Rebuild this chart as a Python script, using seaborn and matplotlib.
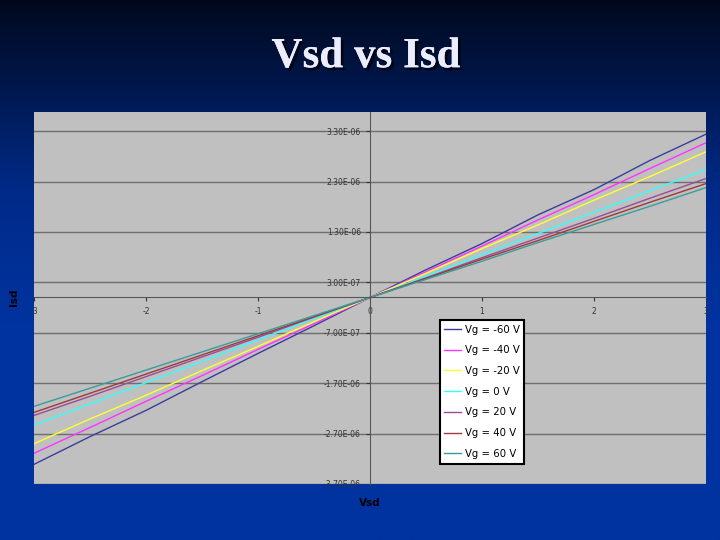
import numpy as np
import pandas as pd
import matplotlib
matplotlib.use("Agg")
import matplotlib.pyplot as plt
import matplotlib.patheffects as pe
from matplotlib.colors import LinearSegmentedColormap
import seaborn as sns

# Vsd sweep (V)
vsd = [-3.0, -2.5, -2.0, -1.5, -1.0, -0.5, 0.0, 0.5, 1.0, 1.5, 2.0, 2.5, 3.0]

# Isd, in microamps
isd_m60 = [-3.31, -2.76, -2.24, -1.67, -1.11, -0.56, 0.0, 0.55, 1.07, 1.64, 2.14, 2.72, 3.24]
isd_m40 = [-3.09, -2.58, -2.06, -1.55, -1.03, -0.52, 0.0, 0.51, 1.02, 1.54, 2.04, 2.56, 3.07]
isd_m20 = [-2.90, -2.41, -1.94, -1.45, -0.97, -0.48, 0.0, 0.48, 0.97, 1.44, 1.93, 2.40, 2.89]
isd_0 = [-2.53, -2.11, -1.69, -1.27, -0.84, -0.42, 0.0, 0.42, 0.85, 1.27, 1.69, 2.12, 2.54]
isd_p20 = [-2.34, -1.96, -1.57, -1.18, -0.79, -0.39, 0.0, 0.39, 0.79, 1.18, 1.57, 1.97, 2.36]
isd_p40 = [-2.28, -1.90, -1.52, -1.14, -0.76, -0.38, 0.0, 0.38, 0.76, 1.13, 1.51, 1.89, 2.26]
isd_p60 = [-2.16, -1.80, -1.44, -1.08, -0.72, -0.36, 0.0, 0.36, 0.72, 1.09, 1.45, 1.81, 2.18]

labels = ["Vg = -60 V", "Vg = -40 V", "Vg = -20 V", "Vg = 0 V",
          "Vg = 20 V", "Vg = 40 V", "Vg = 60 V"]
series = [isd_m60, isd_m40, isd_m20, isd_0, isd_p20, isd_p40, isd_p60]
colors = ["#3c3c9c", "#ff33ff", "#ffff33", "#33ffff", "#994d99", "#a03a3a", "#3a9c9c"]

yticks = [-3.7e-6, -2.7e-6, -1.7e-6, -7.0e-7, 3.0e-7, 1.3e-6, 2.3e-6, 3.3e-6]
xticks = [-3, -2, -1, 0, 1, 2, 3]

rows = []
for lab, vals in zip(labels, series):
    for x, y in zip(vsd, vals):
        rows.append({"Vsd": x, "Isd": y * 1e-6, "Vg": lab})
df = pd.DataFrame(rows)

fig = plt.figure(figsize=(7.2, 5.4), dpi=100)

# slide background gradient
bg = fig.add_axes([0, 0, 1, 1], zorder=-10)
cmap = LinearSegmentedColormap.from_list(
    "slide", [(0.0, "#00081c"), (0.35, "#002a88"), (0.6, "#0033a0"), (1.0, "#0033a0")])
grad = np.linspace(0, 1, 256).reshape(-1, 1)
bg.imshow(grad, aspect="auto", cmap=cmap, extent=[0, 1, 0, 1], origin="upper")
bg.axis("off")

ax = fig.add_axes([34 / 720, 1 - 484 / 540, 672 / 720, 372 / 540])
ax.set_facecolor("#c0c0c0")

sns.lineplot(data=df, x="Vsd", y="Isd", hue="Vg", hue_order=labels,
             palette=colors, linewidth=1.0, ax=ax, legend=True)

ax.set_xlim(-3, 3)
ax.set_ylim(-3.7e-6, 3.68e-6)
ax.set_yticks(yticks)
ax.set_yticklabels(["{:.2E}".format(v) for v in yticks])
ax.set_xticks(xticks)
ax.set_xticklabels([str(v) for v in xticks])

ax.grid(axis="y", color="#6e6e6e", linewidth=1.0)
ax.grid(axis="x", visible=False)
ax.set_axisbelow(True)

for s in ["top", "right"]:
    ax.spines[s].set_visible(False)
ax.spines["left"].set_position(("data", 0))
ax.spines["bottom"].set_position(("data", 0))
ax.spines["left"].set_color("#555555")
ax.spines["bottom"].set_color("#555555")
ax.tick_params(axis="both", labelsize=5.5, colors="#333333", length=3, width=0.8)

ax.set_xlabel("")
ax.set_ylabel("")

leg = ax.legend(loc="upper left", bbox_to_anchor=(0.604, 0.441), fontsize=7.3,
                frameon=True, fancybox=False, edgecolor="black", facecolor="white",
                framealpha=1.0, handlelength=1.6, labelspacing=1.06,
                borderpad=0.45, handletextpad=0.4, borderaxespad=0)
leg.get_frame().set_linewidth(1.5)

fig.text(0.019, 0.45, "Isd", rotation=90, ha="center", va="center",
         fontsize=7.5, fontweight="bold", color="black")
fig.text(0.514, 0.069, "Vsd", ha="center", va="center",
         fontsize=7.5, fontweight="bold", color="black")

fig.text(0.508, 0.894, "Vsd vs Isd", ha="center", va="center",
         fontsize=31, fontweight="bold", family="Liberation Serif", color="#ececff",
         path_effects=[pe.withSimplePatchShadow(offset=(2, -2), shadow_rgbFace="black", alpha=0.7),
                       pe.Normal()])

fig.savefig("out.png", dpi=100)
